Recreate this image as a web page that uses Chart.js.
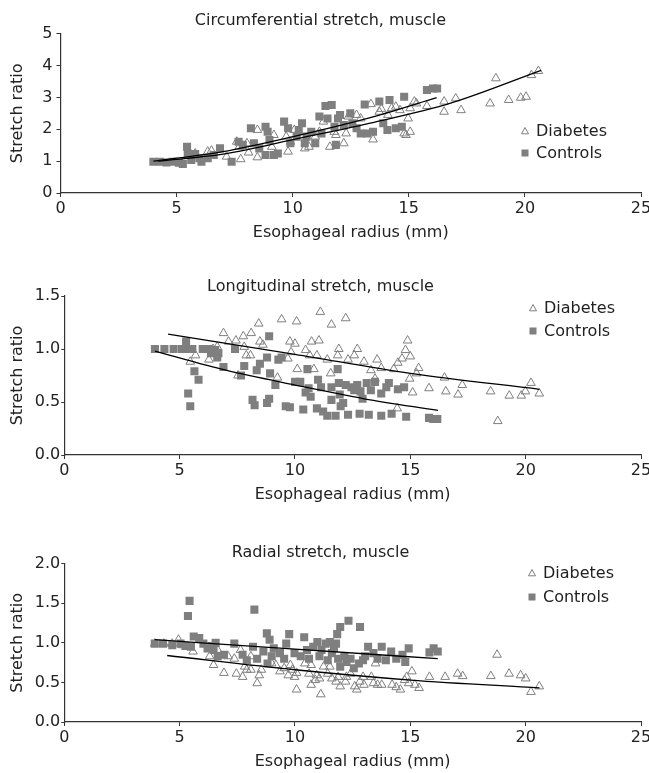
<!DOCTYPE html>
<html>
<head>
<meta charset="utf-8">
<script src="https://cdn.jsdelivr.net/npm/chart.js@4/dist/chart.umd.min.js"></script>
<style>
  html, body { margin: 0; padding: 0; background: #fff; overflow: hidden; }
  .box { position: absolute; left: 0; width: 700px; }
</style>
</head>
<body>
<div class="box" style="top:0;height:255px"><canvas id="circChart"></canvas></div>
<div class="box" style="top:255px;height:265px"><canvas id="longChart"></canvas></div>
<div class="box" style="top:520px;height:253px"><canvas id="radChart"></canvas></div>
<script>
// x = esophageal radius (mm), y = stretch ratio
var xTicks = [0, 5, 10, 15, 20, 25];

// Circumferential stretch
var circDiabetes = [[5.8,1.24],[6.34,1.30],[6.5,1.33],[7.15,1.14],[7.59,1.61],[7.7,1.45],[7.76,1.06],[8.03,1.56],[8.1,1.27],
  [8.48,1.98],[8.48,1.12],[9.1,1.45],[9.19,1.82],[9.72,1.77],[9.8,1.30],[9.9,1.61],[10.07,1.98],[10.52,1.40],[10.7,1.45],
  [10.97,1.77],[11.15,1.92],[11.32,2.24],[11.6,1.45],[11.79,1.92],[11.86,1.82],[12.2,1.56],[12.3,1.87],[12.4,2.40],
  [12.75,2.45],[12.93,2.34],[13.37,2.79],[13.46,1.68],[13.73,2.55],[13.82,2.64],[14.1,2.45],[14.26,2.66],[14.44,2.71],
  [14.62,2.60],[14.8,1.87],[14.88,1.82],[14.97,2.34],[15.06,1.92],[15.06,2.66],[15.24,2.87],[15.33,2.81],[15.78,2.73],
  [16.52,2.87],[16.52,2.55],[17.02,2.97],[17.25,2.60],[18.5,2.81],[18.75,3.60],[19.3,2.92],[19.82,2.99],[20.05,3.02],
  [20.28,3.70],[20.58,3.83]];
var circControls = [[4.0,0.98],[4.29,0.98],[4.56,0.96],[4.83,0.98],[5.1,0.95],[5.27,0.91],[5.45,1.45],[5.48,1.24],[5.63,1.04],
  [5.8,1.22],[5.98,1.09],[6.07,0.98],[6.34,1.09],[6.6,1.19],[6.87,1.40],[7.37,0.98],[7.67,1.61],[7.85,1.51],[8.2,2.03],
  [8.33,1.56],[8.56,1.40],[8.83,2.08],[8.83,1.19],[8.92,1.92],[9.0,1.66],[9.19,1.19],[9.36,1.24],[9.63,2.24],[9.8,2.03],
  [9.9,1.56],[10.17,1.77],[10.26,1.98],[10.4,2.19],[10.52,1.56],[10.6,1.77],[10.8,1.92],[10.97,1.56],[11.15,2.40],
  [11.24,1.87],[11.41,2.73],[11.5,2.34],[11.68,2.76],[11.8,2.08],[11.86,1.51],[11.95,2.34],[12.04,2.45],[12.2,2.13],
  [12.48,2.50],[12.57,2.19],[12.75,2.03],[12.93,1.87],[13.1,2.78],[13.2,1.87],[13.46,1.92],[13.73,2.87],[13.9,2.19],
  [14.08,1.98],[14.17,2.92],[14.44,2.03],[14.7,2.08],[14.8,3.02],[15.78,3.23],[16.04,3.28],[16.22,3.28]];
var circDiabetesFit = [[4.2,1.0],[7,1.22],[10.3,1.72],[13.5,2.22],[16.8,2.82],[20.7,3.85]];
var circControlsFit = [[4.0,1.0],[7,1.3],[10.3,1.82],[13.5,2.4],[16.2,2.99]];
var circYTicks = [0, 1, 2, 3, 4, 5];

// Longitudinal stretch
var longDiabetes = [[5.46,0.88],[5.69,0.94],[6.27,0.90],[6.45,1.0],[6.63,1.02],[6.9,1.15],[7.12,1.07],[7.44,1.08],[7.53,0.75],
  [7.76,1.12],[7.8,1.02],[7.89,0.94],[8.07,0.94],[8.1,1.15],[8.43,1.24],[8.48,1.07],[8.61,1.04],[9.24,0.73],[9.42,1.28],
  [9.69,0.91],[9.78,1.07],[9.83,0.97],[10.0,1.05],[10.07,1.26],[10.1,0.81],[10.46,0.99],[10.64,0.94],[10.72,1.07],
  [10.82,0.81],[10.95,0.94],[11.04,1.08],[11.1,1.35],[11.4,0.90],[11.55,0.77],[11.58,1.23],[11.85,0.94],[11.9,1.0],
  [12.2,1.29],[12.3,0.90],[12.57,0.94],[12.7,1.0],[12.99,0.88],[13.29,0.80],[13.47,0.72],[13.56,0.90],[13.74,0.82],
  [14.28,0.81],[14.43,0.44],[14.46,0.87],[14.64,0.91],[14.79,0.99],[14.88,1.08],[15.0,0.93],[14.97,0.72],[15.1,0.59],
  [15.27,0.77],[15.36,0.82],[15.81,0.63],[16.48,0.73],[16.54,0.60],[17.07,0.57],[17.25,0.66],[18.48,0.60],[18.79,0.32],
  [19.29,0.56],[19.81,0.56],[19.99,0.60],[20.23,0.68],[20.59,0.58]];
var longControls = [[3.93,1.0],[4.34,1.0],[4.74,1.0],[5.1,1.0],[5.28,1.07],[5.37,1.0],[5.55,1.0],[5.37,0.58],[5.46,0.46],
  [5.64,0.79],[5.82,0.71],[6.0,1.0],[6.27,1.0],[6.36,0.96],[6.54,0.99],[6.63,0.92],[6.68,0.96],[6.9,0.83],[7.4,1.0],
  [7.66,0.75],[7.8,0.84],[8.16,0.52],[8.25,0.47],[8.34,0.80],[8.48,0.86],[8.79,0.92],[8.79,0.49],[8.88,1.12],[8.88,0.53],
  [8.92,0.77],[9.15,0.66],[9.28,0.90],[9.42,0.92],[9.6,0.46],[9.78,0.45],[10.0,0.69],[10.23,0.69],[10.36,0.43],
  [10.46,0.59],[10.59,0.63],[10.54,0.81],[10.68,0.55],[11.0,0.71],[10.95,0.44],[11.13,0.64],[11.22,0.41],[11.4,0.37],
  [11.58,0.64],[11.58,0.52],[11.76,0.37],[11.85,0.81],[11.9,0.68],[11.94,0.57],[11.98,0.46],[12.09,0.49],[12.2,0.66],
  [12.3,0.38],[12.45,0.64],[12.57,0.61],[12.7,0.66],[12.84,0.60],[12.93,0.53],[12.8,0.39],[13.11,0.68],[13.2,0.38],
  [13.29,0.61],[13.47,0.69],[13.74,0.58],[13.74,0.37],[13.96,0.64],[14.07,0.68],[14.19,0.39],[14.46,0.62],[14.73,0.64],
  [14.82,0.36],[15.81,0.35],[15.99,0.34],[16.17,0.34]];
var longDiabetesFit = [[4.5,1.14],[10,0.95],[15,0.77],[20.6,0.62]];
var longControlsFit = [[3.93,0.98],[7,0.80],[10,0.66],[13,0.53],[16.2,0.42]];
var longYTicks = [0, 0.5, 1.0, 1.5];

// Radial stretch
var radDiabetes = [[3.92,0.99],[4.32,0.99],[4.68,0.99],[4.95,1.04],[5.13,0.97],[5.4,0.95],[5.58,0.89],[6.3,0.83],[6.47,0.72],
  [6.65,0.91],[6.92,0.62],[7.1,0.83],[7.37,0.80],[7.46,0.61],[7.64,0.91],[7.73,0.57],[7.82,0.70],[7.91,0.66],[8.09,0.83],
  [8.09,0.66],[8.36,0.49],[8.45,0.59],[8.54,0.66],[8.99,0.74],[9.17,0.72],[9.35,0.64],[9.53,0.68],[9.71,0.59],[9.8,0.72],
  [9.89,0.66],[9.98,0.57],[10.07,0.62],[10.07,0.41],[10.43,0.74],[10.61,0.61],[10.7,0.72],[10.7,0.47],[10.88,0.53],
  [10.94,0.59],[11.06,0.55],[11.12,0.35],[11.24,0.70],[11.42,0.61],[11.51,0.70],[11.6,0.55],[11.78,0.51],[11.87,0.57],
  [11.96,0.45],[12.19,0.51],[12.23,0.57],[12.41,0.61],[12.59,0.45],[12.68,0.41],[12.81,0.51],[12.95,0.57],[12.99,0.47],
  [13.31,0.57],[13.4,0.49],[13.49,0.74],[13.58,0.47],[13.76,0.47],[14.21,0.47],[14.39,0.44],[14.57,0.41],[14.75,0.53],
  [14.84,0.57],[14.93,0.49],[15.07,0.64],[15.2,0.47],[15.38,0.43],[15.83,0.57],[16.51,0.57],[17.05,0.61],[17.27,0.58],
  [18.49,0.58],[18.76,0.85],[19.28,0.61],[19.78,0.59],[20.0,0.55],[20.23,0.38],[20.59,0.45]];
var radControls = [[3.92,0.99],[4.28,0.99],[4.68,0.97],[5.04,0.99],[5.25,0.96],[5.36,1.34],[5.43,1.53],[5.49,0.95],[5.61,1.08],
  [5.85,1.06],[6.03,0.99],[6.21,0.93],[6.39,0.96],[6.47,0.91],[6.56,1.0],[6.65,0.83],[6.92,0.85],[7.37,0.99],[7.73,0.85],
  [7.91,0.78],[8.18,0.95],[8.24,1.42],[8.36,0.80],[8.63,0.89],[8.78,1.12],[8.9,1.04],[8.81,0.74],[8.99,0.83],[9.08,0.93],
  [9.35,0.87],[9.53,0.80],[9.62,0.99],[9.75,1.11],[9.98,0.87],[10.25,0.83],[10.4,1.07],[10.52,0.91],[10.61,0.80],
  [10.79,0.95],[10.97,1.01],[11.06,0.83],[11.15,0.91],[11.33,0.99],[11.42,0.78],[11.51,1.01],[11.6,0.87],[11.69,0.93],
  [11.78,0.99],[11.83,1.11],[11.87,0.80],[11.96,1.20],[11.96,0.70],[12.14,0.83],[12.23,0.76],[12.32,1.28],[12.41,0.80],
  [12.55,0.68],[12.77,0.74],[12.82,1.20],[12.95,0.78],[13.04,0.83],[13.17,0.95],[13.4,0.87],[13.58,0.80],[13.76,0.95],
  [13.94,0.78],[14.17,0.89],[14.39,0.80],[14.66,0.85],[14.78,0.76],[14.93,0.93],[15.83,0.88],[16.01,0.93],[16.19,0.89]];
var radDiabetesFit = [[4.46,0.84],[10,0.66],[15,0.53],[20.6,0.43]];
var radControlsFit = [[3.92,1.04],[10,0.92],[16.19,0.80]];
var radYTicks = [0, 0.5, 1.0, 1.5, 2.0];

var FONT = 'DejaVu Sans';
var INK = '#222';
var GREY = '#7f7f7f';

function pts(arr) {
    return arr.map(function(p) { return {x: p[0], y: p[1]}; });
}

// legend drawn inside the plot, like the original figure
var cornerLegend = {
    id: 'cornerLegend',
    afterDraw: function(chart, args, opts) {
        var ctx = chart.ctx;
        ctx.save();
        ctx.font = '16px "' + FONT + '"';
        ctx.textBaseline = 'middle';
        ctx.fillStyle = INK;
        // triangle
        var x = opts.x, y = opts.y;
        ctx.beginPath();
        ctx.moveTo(x, y - 3.5);
        ctx.lineTo(x + 3.5, y + 2.8);
        ctx.lineTo(x - 3.5, y + 2.8);
        ctx.closePath();
        ctx.strokeStyle = GREY;
        ctx.lineWidth = 1;
        ctx.stroke();
        ctx.fillText('Diabetes', x + 11, y + 1);
        // square
        y = opts.y + opts.gap;
        ctx.fillStyle = GREY;
        ctx.fillRect(x - 3.5, y - 3.5, 7, 7);
        ctx.fillStyle = INK;
        ctx.fillText('Controls', x + 11, y + 1);
        ctx.restore();
    }
};

function makeChart(id, cfg) {
    var ctx = document.getElementById(id).getContext('2d');
    return new Chart(ctx, {
        type: 'scatter',
        data: {
            datasets: [{
                label: 'Diabetes fit',
                type: 'line',
                data: pts(cfg.diabetesFit),
                borderColor: '#000',
                borderWidth: 1.3,
                pointRadius: 0,
                fill: false,
                tension: 0.4,
                cubicInterpolationMode: 'monotone',
                order: 0
            }, {
                label: 'Controls fit',
                type: 'line',
                data: pts(cfg.controlsFit),
                borderColor: '#000',
                borderWidth: 1.3,
                pointRadius: 0,
                fill: false,
                tension: 0.4,
                cubicInterpolationMode: 'monotone',
                order: 0
            }, {
                label: 'Diabetes',
                data: pts(cfg.diabetes),
                pointStyle: 'triangle',
                pointRadius: 5,
                borderColor: GREY,
                backgroundColor: 'rgba(255,255,255,0)',
                borderWidth: 1,
                order: 1
            }, {
                label: 'Controls',
                data: pts(cfg.controls),
                pointStyle: 'rect',
                pointRadius: 5.7,
                borderColor: GREY,
                backgroundColor: GREY,
                borderWidth: 0,
                order: 2
            }]
        },
        plugins: [cornerLegend],
        options: {
            responsive: true,
            maintainAspectRatio: false,
            animation: false,
            layout: { padding: { top: 0, left: 0, right: 59, bottom: 0 } },
            plugins: {
                legend: { display: false },
                tooltip: { enabled: false },
                title: {
                    display: true,
                    text: cfg.title,
                    color: INK,
                    font: { family: FONT, size: 16, weight: 'normal' },
                    padding: cfg.titlePad
                },
                cornerLegend: cfg.legend
            },
            scales: {
                x: {
                    type: 'linear',
                    min: 0,
                    max: 25,
                    afterBuildTicks: function(scale) {
                        scale.ticks = xTicks.map(function(v) { return {value: v}; });
                    },
                    afterFit: function(scale) { scale.height = cfg.xHeight; },
                    border: { color: '#333', width: 1.2 },
                    grid: { drawOnChartArea: false, drawTicks: true, tickLength: 4, color: '#333' },
                    ticks: { color: INK, padding: 2, font: { family: FONT, size: 16 } },
                    title: {
                        display: true,
                        text: 'Esophageal radius (mm)',
                        color: INK,
                        font: { family: FONT, size: 16 },
                        padding: { top: 0, bottom: cfg.xTitlePad }
                    }
                },
                y: {
                    type: 'linear',
                    min: cfg.yTicks[0],
                    max: cfg.yTicks[cfg.yTicks.length - 1],
                    afterBuildTicks: function(scale) {
                        scale.ticks = cfg.yTicks.map(function(v) { return {value: v}; });
                    },
                    afterFit: function(scale) { scale.width = cfg.yWidth; },
                    border: { color: '#333', width: 1.2 },
                    grid: { drawOnChartArea: false, drawTicks: true, tickLength: cfg.yTickLen, color: '#333' },
                    ticks: {
                        color: INK,
                        padding: cfg.yTickPad,
                        font: { family: FONT, size: 16 },
                        callback: function(v) { return cfg.decimals ? v.toFixed(1) : String(v); }
                    },
                    title: {
                        display: true,
                        text: 'Stretch ratio',
                        color: INK,
                        font: { family: FONT, size: 16 },
                        padding: { top: 8.7, bottom: 0 }
                    }
                }
            }
        }
    });
}

makeChart('circChart', {
    title: 'Circumferential stretch, muscle',
    diabetes: circDiabetes, controls: circControls,
    diabetesFit: circDiabetesFit, controlsFit: circControlsFit,
    yTicks: circYTicks, decimals: false,
    titlePad: { top: 11.4, bottom: 3.1 },
    xHeight: 62, xTitlePad: 12.4,
    yWidth: 60.5, yTickLen: 4, yTickPad: 4,
    legend: { x: 525, y: 131, gap: 22 }
});

makeChart('longChart', {
    title: 'Longitudinal stretch, muscle',
    diabetes: longDiabetes, controls: longControls,
    diabetesFit: longDiabetesFit, controlsFit: longControlsFit,
    yTicks: longYTicks, decimals: true,
    titlePad: { top: 21.8, bottom: 0 },
    xHeight: 65, xTitlePad: 15.4,
    yWidth: 64.3, yTickLen: 3, yTickPad: 1,
    legend: { x: 533, y: 53, gap: 23 }
});

makeChart('radChart', {
    title: 'Radial stretch, muscle',
    diabetes: radDiabetes, controls: radControls,
    diabetesFit: radDiabetesFit, controlsFit: radControlsFit,
    yTicks: radYTicks, decimals: true,
    titlePad: { top: 23.4, bottom: 1.1 },
    xHeight: 51, xTitlePad: 1.4,
    yWidth: 64.3, yTickLen: 3, yTickPad: 1,
    legend: { x: 532, y: 53, gap: 24 }
});
</script>
</body>
</html>
